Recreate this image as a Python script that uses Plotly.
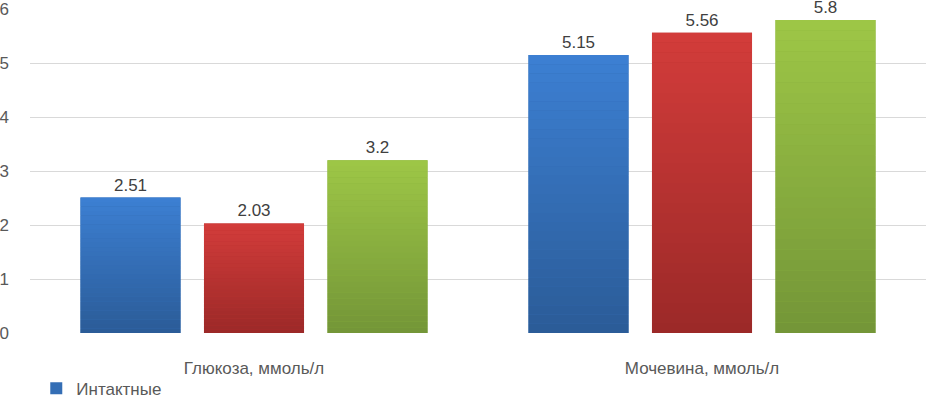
import plotly.graph_objects as go

categories = ["Глюкоза, ммоль/л", "Мочевина, ммоль/л"]
series_names = ["Интактные", "Серия 2", "Серия 3"]
intact = [2.51, 5.15]
series2 = [2.03, 5.56]
series3 = [3.2, 5.8]
values_all = [intact, series2, series3]
y_ticks = [0, 1, 2, 3, 4, 5, 6]

top_colors = [(60, 127, 210), (210, 60, 58), (157, 198, 70)]
bottom_colors = [(43, 92, 152), (156, 41, 40), (116, 150, 56)]
N = 30

def mix(c1, c2, t):
    return "rgb(%d,%d,%d)" % tuple(round(a + (b - a) * t) for a, b in zip(c1, c2))

fig = go.Figure()
for i, (name, vals) in enumerate(zip(series_names, values_all)):
    fig.add_trace(go.Bar(
        x=categories, y=vals, name=name, offsetgroup=str(i),
        marker=dict(color=mix(top_colors[i], bottom_colors[i], 0.5), line=dict(width=0)),
        text=[str(v) for v in vals], textposition="outside",
        textfont=dict(size=17, color="#404040"), cliponaxis=False,
        showlegend=(i == 0),
    ))
    for k in range(N):
        t = k / (N - 1)
        fig.add_trace(go.Bar(
            x=categories, y=[v / N for v in vals], base=[v * k / N for v in vals],
            offsetgroup=str(i), showlegend=False, hoverinfo="skip",
            marker=dict(color=mix(bottom_colors[i], top_colors[i], t), line=dict(width=0)),
        ))

fig.update_layout(
    width=926, height=396,
    margin=dict(l=30, r=0, t=9, b=63, autoexpand=False),
    paper_bgcolor="white", plot_bgcolor="white",
    barmode="group", bargap=0.173, bargroupgap=0.19,
    font=dict(family="Liberation Sans, Arial, sans-serif", size=17, color="#595959"),
    showlegend=True,
    legend=dict(orientation="h", x=0.007, xanchor="left", y=-0.116, yanchor="top",
                font=dict(size=17, color="#595959"), itemwidth=30),
    yaxis=dict(range=[0, 6.002], tickvals=y_ticks, showgrid=True, gridcolor="#d9d9d9",
               gridwidth=1, zeroline=False, showline=False, ticklabelstandoff=20,
               ticklabeloverflow="allow", automargin=False,
               tickfont=dict(size=17, color="#595959")),
    xaxis=dict(showline=False, showgrid=False, ticks="", ticklabelstandoff=23,
               automargin=False, tickfont=dict(size=17, color="#595959")),
)

fig.write_html(
    "out.html",
    config={"displayModeBar": False},
    post_script="document.body.style.margin='0';document.body.style.overflow='hidden';",
)
